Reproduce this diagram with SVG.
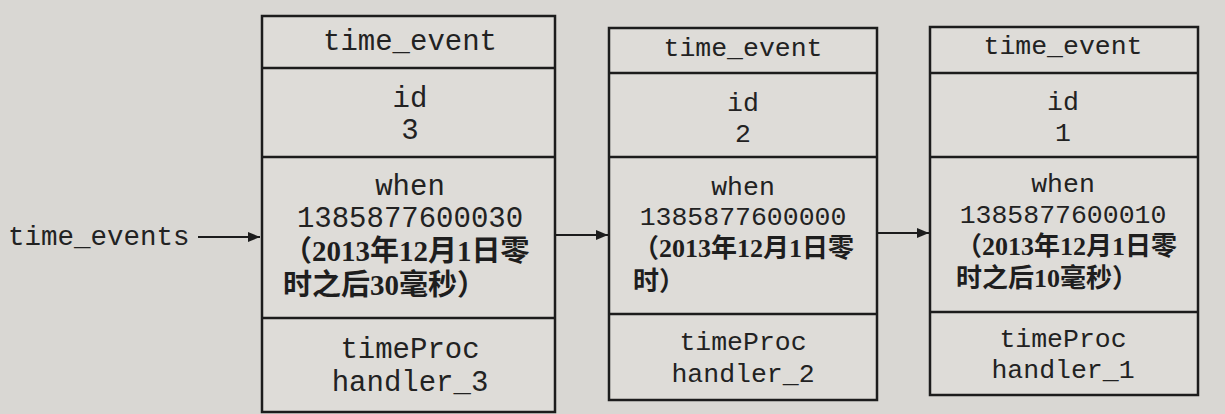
<svg xmlns="http://www.w3.org/2000/svg" width="1225" height="414" viewBox="0 0 1225 414">
<style>
.bg{fill:#d9d7d3}
.box{fill:#dedcd8;stroke:#1c1c1c;stroke-width:2.5}
.div{stroke:#1c1c1c;stroke-width:2.5}
.m{font-family:"Liberation Mono","DejaVu Sans Mono",monospace;font-size:26.5px;fill:#222;text-anchor:middle}
.m1{font-size:29px}
.ml{font-family:"Liberation Mono","DejaVu Sans Mono",monospace;font-size:27.5px;fill:#222}
.c{font-family:"Liberation Serif","Noto Sans CJK SC",serif;font-size:26px;font-weight:bold;fill:#1e1e1e}
.c1{font-size:29px}
.con{stroke:#1c1c1c;stroke-width:2;fill:none;marker-end:url(#ah)}
</style>
<defs>
<marker id="ah" viewBox="0 0 12 10" refX="12" refY="5" markerWidth="12" markerHeight="10" markerUnits="userSpaceOnUse" orient="auto">
<path d="M0,0 L12,5 L0,10 Z" fill="#1c1c1c"/>
</marker>
</defs>
<rect class="bg" x="0" y="0" width="1225" height="414"/>
<g id="label-time_events">
<text class="ml" x="8" y="245">time_events</text>
</g>
<g id="node3">
<rect class="box" x="262" y="16" width="293" height="396"/>
<line class="div" x1="262" y1="68" x2="555" y2="68"/>
<line class="div" x1="262" y1="157" x2="555" y2="157"/>
<line class="div" x1="262" y1="318" x2="555" y2="318"/>
<text class="m m1" x="410" y="50">time_event</text>
<text class="m m1" x="410" y="107">id</text>
<text class="m m1" x="410" y="139">3</text>
<text class="m m1" x="410" y="195">when</text>
<text class="m m1" x="410" y="227">1385877600030</text>
<text class="c c1" x="283" y="261">（2013年12月1日零</text>
<text class="c c1" x="283" y="295">时之后30毫秒）</text>
<text class="m m1" x="410" y="358">timeProc</text>
<text class="m m1" x="410" y="391">handler_3</text>
</g>
<g id="node2">
<rect class="box" x="609" y="28" width="268" height="372"/>
<line class="div" x1="609" y1="73" x2="877" y2="73"/>
<line class="div" x1="609" y1="157" x2="877" y2="157"/>
<line class="div" x1="609" y1="314" x2="877" y2="314"/>
<text class="m" x="743" y="56">time_event</text>
<text class="m" x="743" y="111">id</text>
<text class="m" x="743" y="142">2</text>
<text class="m" x="743" y="195">when</text>
<text class="m" x="743" y="225">1385877600000</text>
<text class="c" x="633" y="257">（2013年12月1日零</text>
<text class="c" x="633" y="290">时）</text>
<text class="m" x="743" y="350">timeProc</text>
<text class="m" x="743" y="382">handler_2</text>
</g>
<g id="node1">
<rect class="box" x="930" y="27" width="268" height="368"/>
<line class="div" x1="930" y1="73" x2="1198" y2="73"/>
<line class="div" x1="930" y1="157" x2="1198" y2="157"/>
<line class="div" x1="930" y1="312" x2="1198" y2="312"/>
<text class="m" x="1063" y="54">time_event</text>
<text class="m" x="1063" y="110">id</text>
<text class="m" x="1063" y="141">1</text>
<text class="m" x="1063" y="192">when</text>
<text class="m" x="1063" y="223">1385877600010</text>
<text class="c" x="956" y="255">（2013年12月1日零</text>
<text class="c" x="956" y="287">时之后10毫秒）</text>
<text class="m" x="1063" y="347">timeProc</text>
<text class="m" x="1063" y="378">handler_1</text>
</g>
<g id="connectors">
<line class="con" x1="198" y1="237" x2="260" y2="237"/>
<line class="con" x1="555" y1="235" x2="608" y2="235"/>
<line class="con" x1="877" y1="233" x2="929" y2="233"/>
</g>
</svg>
